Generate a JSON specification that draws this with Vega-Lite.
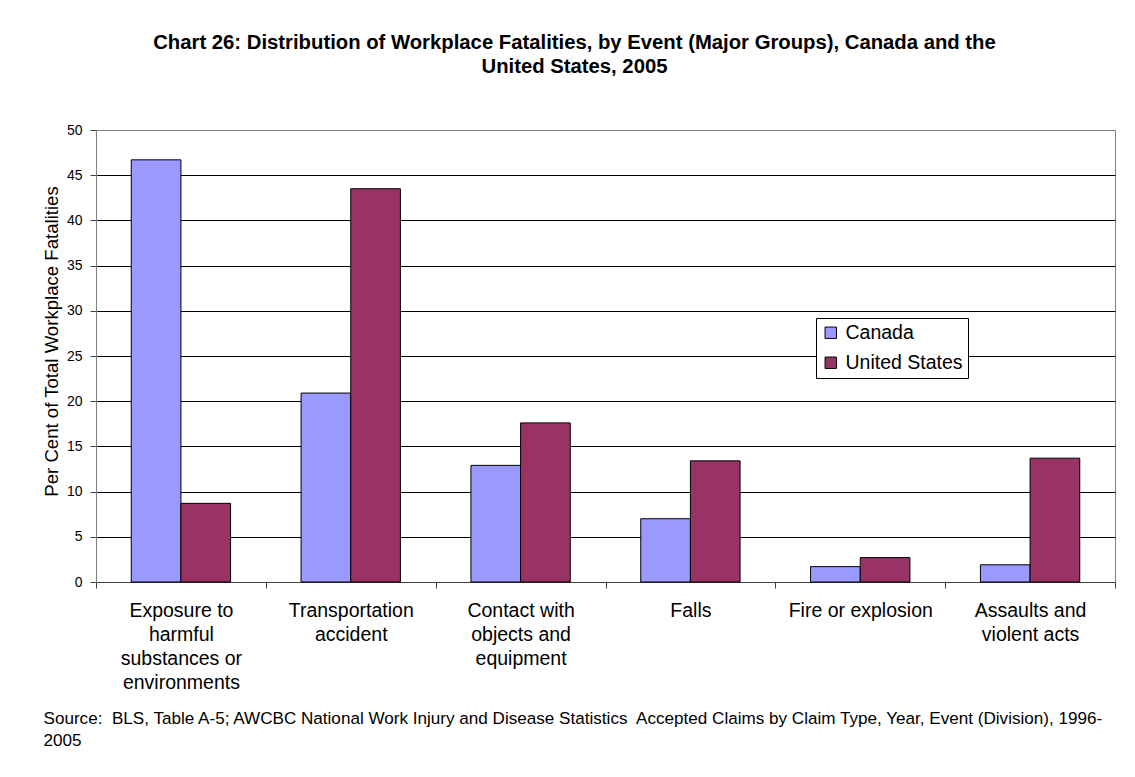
{
  "$schema": "https://vega.github.io/schema/vega-lite/v6.json",
  "width": 1019,
  "height": 452,
  "autosize": {"type": "none"},
  "padding": {"left": 96, "top": 130, "right": 20, "bottom": 195},
  "background": "white",
  "title": {
    "text": ["Chart 26: Distribution of Workplace Fatalities, by Event (Major Groups), Canada and the", "United States, 2005"],
    "font": "Liberation Sans",
    "fontSize": 20.3,
    "fontWeight": "bold",
    "lineHeight": 24,
    "color": "black",
    "anchor": "middle",
    "frame": "group",
    "dx": -31,
    "offset": 46
  },
  "data": {
    "values": [
      {"event": "Exposure to harmful substances or environments", "country": "Canada", "pct": 46.7},
      {"event": "Exposure to harmful substances or environments", "country": "United States", "pct": 8.7},
      {"event": "Transportation accident", "country": "Canada", "pct": 20.9},
      {"event": "Transportation accident", "country": "United States", "pct": 43.5},
      {"event": "Contact with objects and equipment", "country": "Canada", "pct": 12.9},
      {"event": "Contact with objects and equipment", "country": "United States", "pct": 17.6},
      {"event": "Falls", "country": "Canada", "pct": 7.0},
      {"event": "Falls", "country": "United States", "pct": 13.4},
      {"event": "Fire or explosion", "country": "Canada", "pct": 1.7},
      {"event": "Fire or explosion", "country": "United States", "pct": 2.7},
      {"event": "Assaults and violent acts", "country": "Canada", "pct": 1.9},
      {"event": "Assaults and violent acts", "country": "United States", "pct": 13.7}
    ]
  },
  "mark": {"type": "bar", "stroke": "black", "strokeWidth": 1},
  "encoding": {
    "x": {
      "field": "event",
      "type": "nominal",
      "sort": null,
      "scale": {"paddingInner": 0, "paddingOuter": 0},
      "axis": {
        "title": ["Source:\u00a0 BLS, Table A-5; AWCBC National Work Injury and Disease Statistics\u00a0 Accepted Claims by Claim Type, Year, Event (Division), 1996-", "2005"],
        "titleFont": "Liberation Sans",
        "titleFontSize": 17.1,
        "titleFontWeight": "normal",
        "titleColor": "black",
        "titleLineHeight": 22,
        "titleAnchor": "start",
        "titleAlign": "left",
        "titleBaseline": "alphabetic",
        "titleX": -53,
        "titleY": 141,
        "labelAngle": 0,
        "labelFont": "Liberation Sans",
        "labelFontSize": 19.5,
        "labelLineHeight": 24,
        "labelColor": "black",
        "labelPadding": 13,
        "labelLimit": 0,
        "labelOverlap": false,
        "labelBound": false,
        "labelExpr": "datum.value == 'Exposure to harmful substances or environments' ? ['Exposure to', 'harmful', 'substances or', 'environments'] : datum.value == 'Transportation accident' ? ['Transportation', 'accident'] : datum.value == 'Contact with objects and equipment' ? ['Contact with', 'objects and', 'equipment'] : datum.value == 'Assaults and violent acts' ? ['Assaults and', 'violent acts'] : datum.value",
        "tickBand": "extent",
        "tickSize": 6,
        "tickColor": "#404040",
        "domainColor": "#404040",
        "grid": false
      }
    },
    "xOffset": {
      "field": "country",
      "type": "nominal",
      "sort": ["Canada", "United States"],
      "scale": {"paddingInner": 0, "paddingOuter": 0.71}
    },
    "y": {
      "field": "pct",
      "type": "quantitative",
      "scale": {"domain": [0, 50], "nice": false},
      "axis": {
        "title": "Per Cent of Total Workplace Fatalities",
        "titleFont": "Liberation Sans",
        "titleFontSize": 18.6,
        "titleFontWeight": "normal",
        "titleColor": "black",
        "titlePadding": 5,
        "titleY": 211,
        "values": [0, 5, 10, 15, 20, 25, 30, 35, 40, 45, 50],
        "labelFont": "Liberation Sans",
        "labelFontSize": 14,
        "labelColor": "black",
        "labelPadding": 8,
        "tickSize": 6,
        "tickColor": "#404040",
        "domainColor": "#808080",
        "grid": true,
        "gridColor": {"condition": {"test": "datum.value == 50", "value": "#808080"}, "value": "black"},
        "gridWidth": 1
      }
    },
    "color": {
      "field": "country",
      "type": "nominal",
      "scale": {"domain": ["Canada", "United States"], "range": ["#9999FF", "#993366"]},
      "legend": {
        "title": null,
        "orient": "none",
        "legendX": 720,
        "legendY": 188,
        "direction": "vertical",
        "fillColor": "white",
        "strokeColor": "black",
        "padding": 5,
        "rowPadding": 9,
        "symbolType": "square",
        "symbolSize": 130,
        "symbolStrokeColor": "black",
        "symbolStrokeWidth": 1,
        "symbolOpacity": 1,
        "labelFont": "Liberation Sans",
        "labelFontSize": 19.5,
        "labelColor": "black",
        "labelOffset": 5,
        "labelLimit": 0
      }
    }
  },
  "config": {
    "view": {"stroke": "#808080", "strokeWidth": 1},
    "axis": {"domainWidth": 1, "tickWidth": 1}
  }
}
